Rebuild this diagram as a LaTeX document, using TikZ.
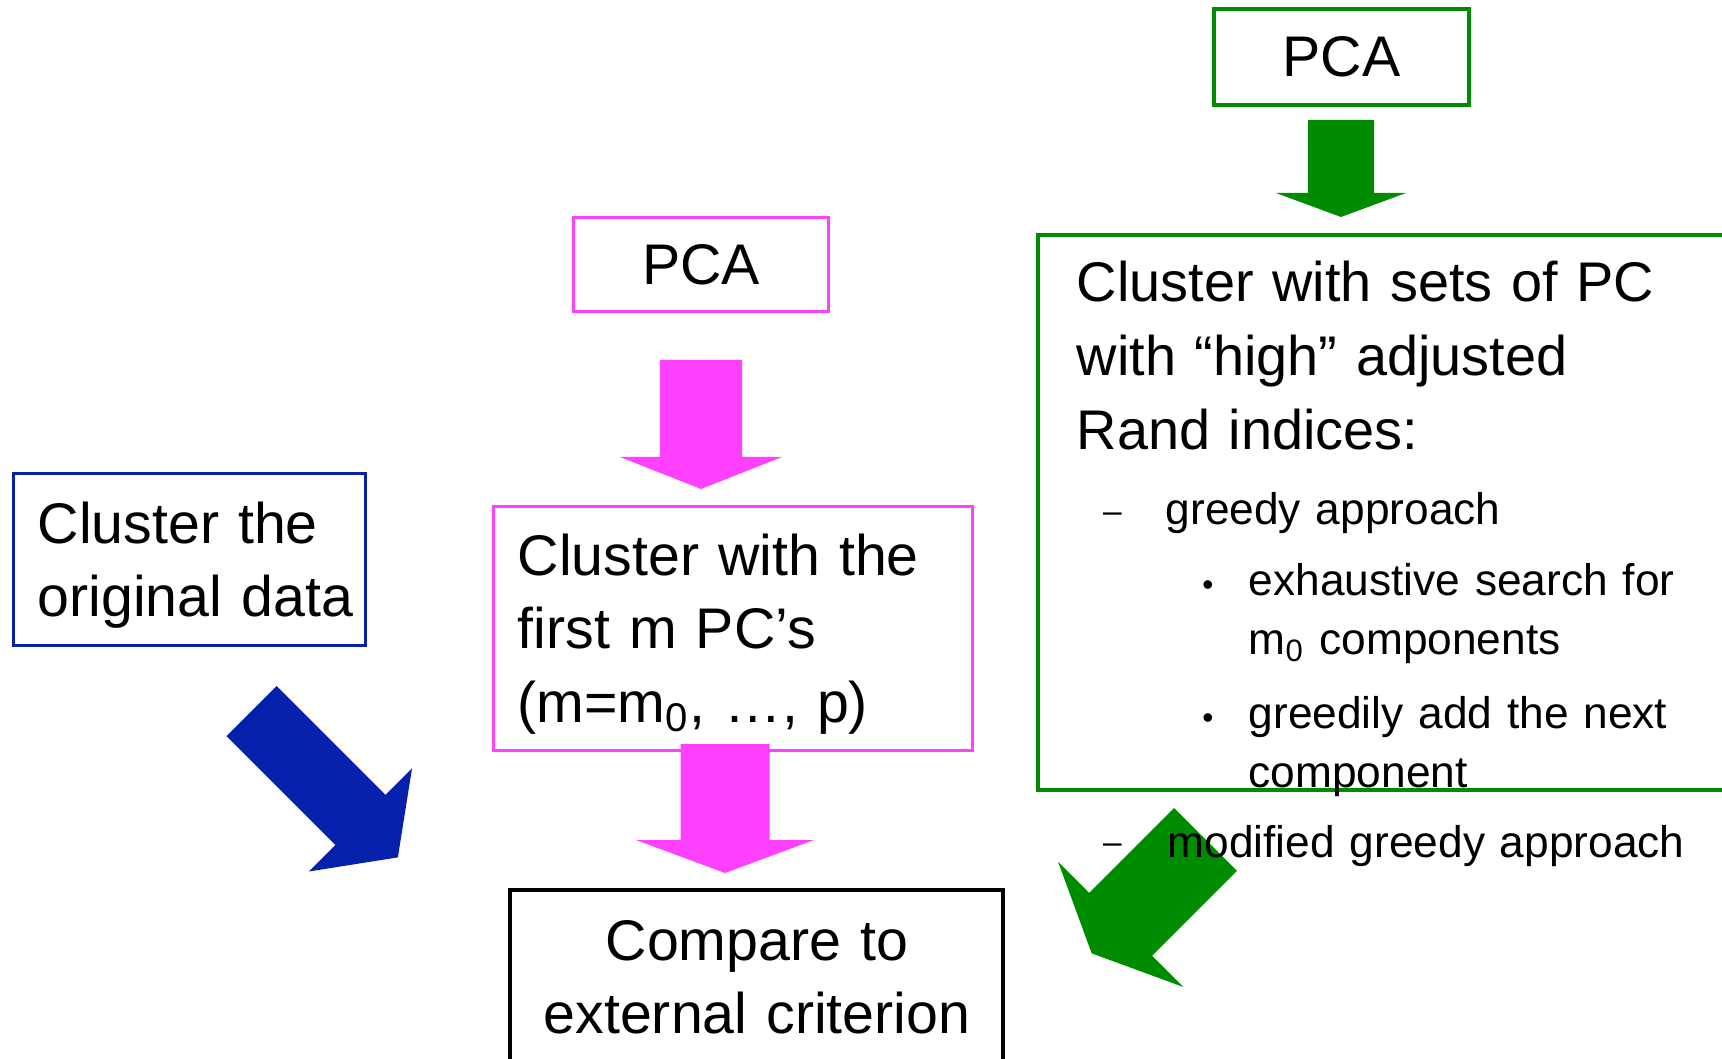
\documentclass[tikz,border=0pt]{standalone}
\usepackage{fontspec}
\setmainfont{Liberation Sans}
\usetikzlibrary{positioning, calc}

\definecolor{pcblue}{HTML}{0520AA}
\definecolor{pcpink}{HTML}{FF40FF}
\definecolor{pcgreen}{HTML}{008C00}

% block arrow: colour, tail, angle, shaft length, head length, half shaft, half head
\newcommand{\fatarrow}[7]{%
  \fill[#1, shift={#2}, rotate=#3] (0,-#6) -- (#4,-#6) -- (#4,-#7) -- ({#4+#5},0)
    -- (#4,#7) -- (#4,#6) -- (0,#6) -- cycle;}

\begin{document}
\begin{tikzpicture}[
    x=0.1mm, y=-0.1mm,
    frame/.style={draw, line width=0.34mm, inner sep=0pt, outer sep=0pt, anchor=north west},
    pcabox/.style={draw, line width=0.34mm, inner sep=0pt, minimum width=25.5mm, font=\fontsize{16.3}{21}\selectfont},
    txt/.style={inner sep=0pt, anchor=base west, align=left, text width=70mm, font=\fontsize{16.3}{21}\selectfont},
    itemtxt/.style={txt, font=\fontsize{12.6}{17}\selectfont},
    dashmark/.style={inner sep=0pt, anchor=base, font=\fontsize{9.5}{9.5}\selectfont},
    bulletmark/.style={inner sep=0pt, anchor=base, font=\fontsize{9}{9}\selectfont}
]
\useasboundingbox (0,0) rectangle (1722,1059);
\clip (0,0) rectangle (1722,1059);

% Boxes
\node[frame, draw=pcblue, minimum width=35.2mm, minimum height=17.2mm] (orig) at (13.5,473.5) {};
\node[pcabox, draw=pcpink, minimum height=9.4mm] (pcaM) at (701,264.5) {PCA};
\node[frame, draw=pcpink, minimum width=47.9mm, minimum height=24.4mm] (firstm) at (493.5,506.5) {};
\node[pcabox, draw=pcgreen, line width=0.4mm, minimum height=9.54mm] (pcaG) at (1341.5,57) {PCA};
\node[frame, draw=pcgreen, line width=0.4mm, minimum width=72.2mm, minimum height=55.5mm] (sets) at (1038,235) {};
\node[frame, line width=0.4mm, minimum width=49.3mm, minimum height=23mm] (compare) at (510,889.7) {};

% Arrow tails
\coordinate (tailG) at (1341,120);
\coordinate (tailM) at (701,360);
\coordinate (tailF) at (725,744);
\coordinate (tailB) at (251.5,711);
\coordinate (tailS) at (1205.5,839.5);

% Block arrows
\fatarrow{pcgreen}{(tailG)}{-90}{73}{24}{33}{65}
\fatarrow{pcpink}{(tailM)}{-90}{97}{32}{41}{81}
\fatarrow{pcpink}{(tailF)}{-90}{96}{33}{44.5}{89}
\fatarrow{pcblue}{(tailB)}{-45}{154}{53}{35.5}{73}
\fatarrow{pcgreen}{(tailS)}{-135}{120}{41}{44.5}{88.5}

% Texts
\node[txt] (origtxt) at (37,543) {Cluster the\\original data};
\node[txt] (firstmtxt) at (517,575) {Cluster with the\\first m PC’s\\(m=m\textsubscript{0}, …, p)};
\node[txt, anchor=base, align=center, text width=48mm] (comparetxt) at (757,960) {Compare to\\external criterion};
\node[txt, font=\fontsize{15.9}{21}\selectfont] (setstxt) at (1076,302) {Cluster with sets of PC\\with “high” adjusted\\Rand indices:};

% Sub items
\node[dashmark] (dash1) at (1112.5,522) {\textendash};
\node[itemtxt] (greedytxt) at (1165,525) {greedy approach};
\node[bulletmark] (bul1) at (1208,595) {\textbullet};
\node[itemtxt] (exhtxt) at (1248,595) {exhaustive search for\\m\textsubscript{0} components};
\node[bulletmark] (bul2) at (1208,728) {\textbullet};
\node[itemtxt] (addtxt) at (1248,728) {greedily add the next\\component};
\node[dashmark] (dash2) at (1112.5,853) {\textendash};
\node[itemtxt] (modtxt) at (1167,857) {modified greedy approach};

\end{tikzpicture}
\end{document}
